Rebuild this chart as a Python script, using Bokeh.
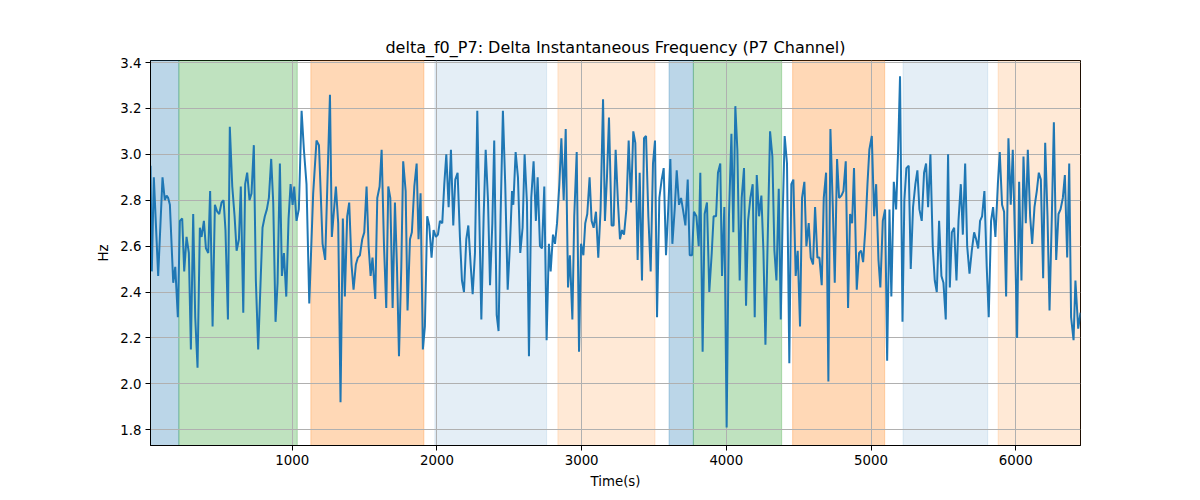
from bokeh.plotting import figure
from bokeh.models import Range1d, FixedTicker, BoxAnnotation, PrintfTickFormatter
from bokeh.embed import file_html
from bokeh.resources import INLINE

# ---------------- data ----------------
time_s = [
    21, 30, 44, 74, 104, 120, 132, 143, 155, 178,
    192, 210, 224, 240, 254, 270, 286, 300, 316, 330,
    346, 362, 374, 390, 404, 420, 433, 450, 466, 482,
    496, 512, 526, 539, 556, 569, 586, 602, 616, 632,
    645, 662, 675, 689, 705, 719, 735, 749, 765, 795,
    811, 825, 839, 855, 869, 885, 899, 915, 929, 943,
    959, 975, 989, 1003, 1014, 1030, 1046, 1065, 1081, 1099,
    1118,
    1145, 1168, 1185, 1210, 1228, 1261, 1274, 1302, 1318, 1334,
    1350, 1364, 1380, 1394, 1410, 1424, 1440, 1454, 1468, 1484,
    1498, 1514, 1528, 1542, 1555, 1574, 1588, 1604, 1618, 1634,
    1650, 1664, 1678, 1694, 1710, 1724, 1738, 1754, 1767, 1784,
    1797, 1814, 1827, 1844, 1860, 1873, 1887, 1903, 1917, 1933,
    1947, 1963, 1977, 1993, 2007, 2021, 2037, 2051, 2065, 2081,
    2097, 2113, 2127, 2143, 2159, 2173, 2187, 2203, 2217,
    2233, 2247, 2263, 2279, 2293, 2307, 2323, 2337, 2353, 2367,
    2383, 2396, 2413, 2426, 2440, 2456, 2472, 2489, 2505, 2519,
    2528, 2544, 2560, 2576, 2592, 2606, 2622, 2636, 2652, 2668,
    2684, 2696, 2712, 2726, 2742, 2758, 2774, 2786, 2802, 2816,
    2830, 2846, 2860, 2876, 2890, 2906, 2919, 2936, 2949, 2966,
    2982, 2996, 3012, 3025, 3039, 3055, 3069, 3083, 3099, 3115,
    3131, 3148, 3161, 3175, 3189, 3207, 3221, 3235, 3251, 3265,
    3279, 3293, 3309,
    3325, 3341, 3357, 3371, 3387, 3401, 3417, 3431, 3445, 3461,
    3477, 3493, 3507, 3521, 3537, 3553, 3567, 3583, 3599, 3613,
    3627, 3643, 3657, 3673, 3687, 3700, 3717, 3733, 3747, 3763,
    3776, 3793, 3809, 3820, 3836, 3850, 3866, 3882, 3899, 3912,
    3929, 3942, 3958, 3970, 3986, 4002, 4018, 4035, 4048, 4062,
    4076, 4092, 4106, 4122, 4136, 4150, 4166, 4182, 4196, 4210,
    4226, 4242, 4256, 4270, 4286, 4302, 4318, 4332, 4346, 4362,
    4376, 4389, 4403, 4419, 4435,
    4449, 4463, 4479, 4493, 4509, 4523, 4539, 4553, 4569, 4583,
    4599, 4613, 4629, 4643, 4659, 4673, 4689, 4705, 4719, 4735,
    4749, 4765, 4779, 4795, 4809, 4825, 4841, 4855, 4869, 4882,
    4901, 4917, 4931, 4945, 4961, 4975, 4988, 5005, 5021, 5035,
    5051, 5064, 5081, 5097, 5111, 5127, 5140, 5157, 5173, 5187,
    5200, 5217, 5230, 5244, 5260, 5274, 5290, 5306, 5320, 5334,
    5350, 5366, 5380, 5394, 5410, 5426, 5440, 5454, 5470, 5486,
    5500, 5516, 5532,
    5544, 5558, 5574, 5590, 5604, 5620, 5634, 5650, 5664, 5680,
    5696, 5712, 5726, 5740, 5753, 5767, 5783, 5799, 5813, 5829,
    5843, 5859, 5876, 5889, 5905, 5919, 5933, 5949, 5965, 5979,
    5995, 6009, 6023, 6039, 6053, 6069, 6083, 6099, 6113, 6129,
    6145, 6159, 6173, 6189, 6203, 6219, 6233, 6249, 6263, 6279,
    6295, 6309, 6325, 6339, 6355, 6369, 6382, 6399, 6412, 6431,
    6447,
]

delta_f0_hz = [
    2.95, 2.49, 2.90, 2.47, 2.90, 2.80, 2.82, 2.81, 2.78, 2.44,
    2.51, 2.29, 2.71, 2.72, 2.49, 2.64, 2.57, 2.15, 2.74, 2.29,
    2.07, 2.68, 2.64, 2.71, 2.59, 2.57, 2.84, 2.25, 2.78, 2.75,
    2.74, 2.79, 2.80, 2.67, 2.28, 3.12, 2.86, 2.73, 2.58, 2.63,
    2.86, 2.31, 2.87, 2.92, 2.80, 2.83, 3.04, 2.45, 2.15, 2.68,
    2.73, 2.76, 2.81, 2.98, 2.79, 2.27, 2.44, 2.96, 2.47, 2.57,
    2.38, 2.72, 2.87, 2.78, 2.86, 2.71, 2.76, 3.19, 3.02, 2.87,
    2.35,
    2.83, 3.06, 3.04, 2.61, 2.54, 3.26, 2.64, 2.86, 2.70, 1.92,
    2.72, 2.38, 2.73, 2.79, 2.52, 2.41, 2.52, 2.55, 2.56, 2.63,
    2.66, 2.86, 2.60, 2.47, 2.55, 2.37, 2.81, 2.86, 3.02, 2.61,
    2.33, 2.86, 2.81, 2.33, 2.79, 2.51, 2.12, 2.51, 2.97, 2.84,
    2.32, 2.63, 2.66, 2.86, 2.96, 2.63, 2.83, 2.15, 2.25, 2.73,
    2.69, 2.55, 2.67, 2.64, 2.65, 2.71, 2.70, 2.87, 3.00, 2.77,
    3.02, 2.69, 2.89, 2.92, 2.64, 2.45, 2.40, 2.63, 2.69,
    2.52, 2.39, 2.57, 3.19, 2.73, 2.28, 2.73, 3.02, 2.80, 2.43,
    2.70, 3.06, 2.30, 2.23, 2.73, 3.19, 2.87, 2.41, 2.61, 2.84,
    2.78, 3.01, 2.90, 2.57, 2.68, 3.00, 2.79, 2.12, 2.81, 2.97,
    2.71, 2.90, 2.60, 2.59, 2.86, 2.19, 2.61, 2.49, 2.65, 2.61,
    2.70, 2.87, 3.07, 2.80, 3.11, 2.42, 2.56, 2.28, 2.73, 3.01,
    2.14, 2.61, 2.56, 2.70, 2.74, 2.90, 2.71, 2.68, 2.75, 2.55,
    2.76, 3.24, 2.71, 2.90, 3.16, 2.69, 2.69, 3.02, 2.79, 2.63,
    2.67, 2.65, 2.76,
    3.06, 2.79, 3.10, 3.05, 2.54, 2.92, 2.45, 3.07, 3.08, 2.73,
    2.49, 2.96, 3.06, 2.29, 2.81, 2.89, 2.94, 2.56, 2.77, 2.98,
    2.61, 2.76, 2.93, 2.78, 2.81, 2.76, 2.69, 2.89, 2.56, 2.56,
    2.75, 2.73, 2.60, 2.92, 2.14, 2.74, 2.79, 2.40, 2.57, 2.73,
    2.73, 2.92, 2.96, 2.47, 2.77, 1.81, 2.73, 3.09, 2.66, 3.21,
    3.02, 2.45, 2.81, 2.94, 2.34, 2.71, 2.81, 2.87, 2.29, 2.91,
    2.73, 2.82, 2.58, 2.17, 2.64, 3.10, 2.99, 2.58, 2.45, 2.85,
    2.28, 2.73, 3.08, 2.96, 2.09,
    2.87, 2.89, 2.47, 2.58, 2.25, 2.81, 2.88, 2.60, 2.70, 2.55,
    2.52, 2.77, 2.55, 2.55, 2.43, 2.81, 2.92, 2.01, 3.11, 2.78,
    2.44, 2.98, 2.81, 2.82, 2.84, 2.97, 2.33, 2.74, 2.70, 2.94,
    2.41, 2.57, 2.58, 2.53, 2.68, 2.87, 3.02, 3.08, 2.73, 2.87,
    2.54, 2.42, 2.71, 2.76, 2.10, 2.76, 2.38, 2.88, 2.76, 3.02,
    3.34, 2.27, 2.80, 2.94, 2.95, 2.50, 2.77, 2.87, 2.93, 2.76,
    2.71, 2.92, 2.96, 2.77, 3.00, 2.60, 2.45, 2.40, 2.71, 2.47,
    2.44, 2.28, 3.00,
    2.42, 2.66, 2.68, 2.45, 2.71, 2.87, 2.65, 2.96, 2.60, 2.48,
    2.58, 2.66, 2.63, 2.59, 2.71, 2.73, 2.84, 2.51, 2.29, 2.71,
    2.77, 2.64, 2.87, 3.01, 2.78, 2.75, 2.38, 3.07, 2.78, 3.02,
    2.61, 2.20, 2.88, 2.45, 2.99, 2.70, 3.02, 2.73, 2.61, 2.77,
    2.84, 2.92, 2.89, 2.46, 3.05, 2.73, 2.32, 2.73, 3.14, 2.54,
    2.74, 2.76, 2.81, 2.91, 2.55, 2.96, 2.29, 2.19, 2.45, 2.24,
    2.31,
]

# shaded phases (start, end in seconds)
phase_start = [21, 217, 1129, 1986, 2836, 3604, 3772, 4458, 5221, 5878]
phase_end = [217, 1035, 1910, 2758, 3507, 3772, 4382, 5094, 5806, 6447]
phase_color = ["#1f77b4", "#2ca02c", "#ff7f0e", "#1f77b4", "#ff7f0e",
               "#1f77b4", "#2ca02c", "#ff7f0e", "#1f77b4", "#ff7f0e"]
phase_alpha = [0.3, 0.3, 0.3, 0.12, 0.17, 0.3, 0.3, 0.3, 0.12, 0.17]

x_ticks = [1000, 2000, 3000, 4000, 5000, 6000]
y_ticks = [1.8, 2.0, 2.2, 2.4, 2.6, 2.8, 3.0, 3.2, 3.4]

assert len(time_s) == len(delta_f0_hz)

FONT = "DejaVu Sans"

p = figure(width=1200, height=500, output_backend="svg", toolbar_location=None,
           x_range=Range1d(21, 6447), y_range=Range1d(1.731, 3.409),
           min_border_left=150, min_border_right=120,
           min_border_top=60, min_border_bottom=55,
           title="delta_f0_P7: Delta Instantaneous Frequency (P7 Channel)")

p.background_fill_color = "white"
p.border_fill_color = "white"
p.outline_line_color = "black"
p.outline_line_width = 1

p.title.text_font = FONT
p.title.text_font_size = "12pt"
p.title.text_font_style = "normal"
p.title.text_color = "black"
p.title.align = "center"
p.title.standoff = 7

# shaded spans drawn beneath the grid (grid sits above spans, below the line)
for s, e, c, a in zip(phase_start, phase_end, phase_color, phase_alpha):
    p.add_layout(BoxAnnotation(left=s, right=e, fill_color=c, fill_alpha=a,
                               line_color=c, line_alpha=a, line_width=1,
                               level="image"))

p.line(time_s, delta_f0_hz, line_color="#1f77b4", line_width=2)

p.xaxis.ticker = FixedTicker(ticks=x_ticks)
p.yaxis.ticker = FixedTicker(ticks=y_ticks)
p.yaxis.formatter = PrintfTickFormatter(format="%.1f")
p.xaxis.axis_label = "Time(s)"
p.yaxis.axis_label = "Hz"

for ax in (p.xaxis, p.yaxis):
    ax.axis_label_text_font = FONT
    ax.axis_label_text_font_size = "10pt"
    ax.axis_label_text_font_style = "normal"
    ax.axis_label_text_color = "black"
    ax.axis_label_standoff = 6
    ax.major_label_text_font = FONT
    ax.major_label_text_font_size = "10pt"
    ax.major_label_text_color = "black"
    ax.major_label_standoff = 4
    ax.major_tick_in = 0
    ax.major_tick_out = 5
    ax.major_tick_line_color = "black"
    ax.minor_tick_line_color = None
    ax.axis_line_color = "black"

p.grid.grid_line_color = "#b0b0b0"
p.grid.grid_line_width = 1

open("out.html", "w").write(file_html(p, INLINE))
